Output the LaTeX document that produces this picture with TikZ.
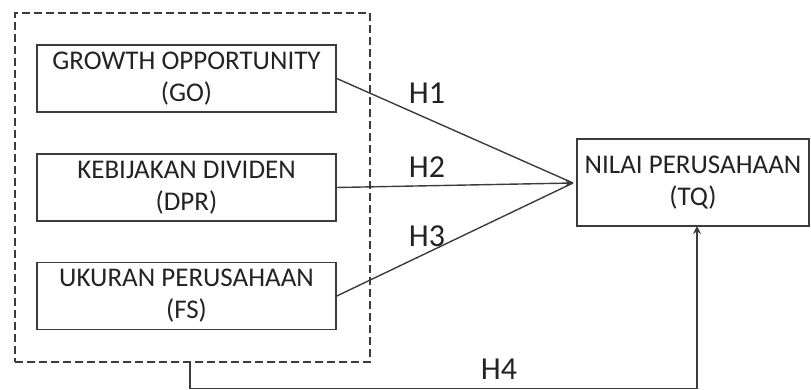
\documentclass[tikz,border=0pt]{standalone}
\usepackage{fontspec}
\setmainfont{Carlito}
\usetikzlibrary{arrows.meta}
\definecolor{linec}{RGB}{60,60,60}
\definecolor{textc}{RGB}{35,35,35}
\begin{document}
\begin{tikzpicture}[x=1pt,y=-1pt,
  varbox/.style={draw=linec,line width=1.6pt,minimum width=299pt,minimum height=67pt,inner sep=0pt,align=center,text=textc,font=\fontsize{27}{32}\selectfont},
  grpbox/.style={draw=linec,line width=1.4pt,dash pattern=on 8pt off 4pt,minimum width=355pt,minimum height=349pt,inner sep=0pt},
  conn/.style={draw=linec,line width=1.4pt},
  hlab/.style={text=textc,font=\fontsize{32}{34}\selectfont,inner sep=0pt},
  tip/.style={-{Stealth[length=8pt,width=8pt]}}]
\useasboundingbox (0,0) rectangle (811,390);
\node[grpbox] (grp) at (192.5,187.5) {};
\node[varbox] (go) at (186.5,78.5) {GROWTH OPPORTUNITY\\(GO)};
\node[varbox] (dpr) at (186.5,187.5) {KEBIJAKAN DIVIDEN\\(DPR)};
\node[varbox] (fs) at (186.5,296) {UKURAN PERUSAHAAN\\(FS)};
\node[varbox,minimum width=232pt,minimum height=87pt] (tq) at (693,182.5) {NILAI PERUSAHAAN\\(TQ)};
\coordinate (meet) at (573,183);
\coordinate (g4) at (190,362);
\coordinate (tqin) at (697,226);
\draw[conn] (go.east) -- (meet);
\draw[conn,tip] (dpr.east) -- (meet);
\draw[conn] (fs.east) -- (meet);
\draw[conn,tip] (g4) -- (190,388.5) -| (tqin);
\node[hlab] (h1) at (427,93) {H1};
\node[hlab] (h2) at (427,167) {H2};
\node[hlab] (h3) at (427,236) {H3};
\node[hlab] (h4) at (499,369) {H4};
\end{tikzpicture}
\end{document}
